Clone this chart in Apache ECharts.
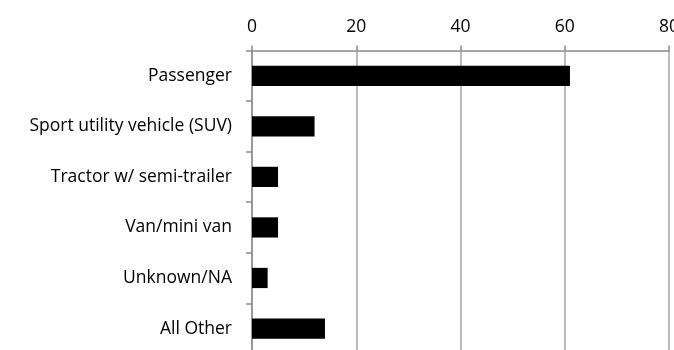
<!DOCTYPE html>
<html>
<head>
<meta charset="utf-8">
<script src="https://cdn.jsdelivr.net/npm/echarts@6/dist/echarts.min.js"></script>
<style>
  html, body { margin: 0; padding: 0; background: #fff; overflow: hidden; }
  #chart { width: 674px; height: 350px; }
</style>
</head>
<body>
<div id="chart"></div>
<script>
// Vehicle types involved, by share
const categories = [
  'Passenger',
  'Sport utility vehicle (SUV)',
  'Tractor w/ semi-trailer',
  'Van/mini van',
  'Unknown/NA',
  'All Other'
];
const values = [61, 12, 5, 5, 3, 14];
const xTicks = [0, 20, 40, 60, 80];

const axisGray = '#8c8c8c';
const font = '"Open Sans", "Liberation Sans", sans-serif';

const chart = echarts.init(document.getElementById('chart'), null, { renderer: 'canvas', width: 674, height: 350 });
chart.setOption({
  animation: false,
  backgroundColor: '#ffffff',
  grid: {
    left: 252, right: 5, top: 50.5, bottom: -3.8,
    containLabel: false,
    outerBoundsMode: 'none'
  },
  xAxis: {
    type: 'value',
    position: 'top',
    min: xTicks[0],
    max: xTicks[xTicks.length - 1],
    interval: xTicks[1] - xTicks[0],
    axisLine: { show: true, lineStyle: { color: axisGray, width: 1.5 } },
    axisTick: { show: true, length: 5, lineStyle: { color: axisGray, width: 1.5 } },
    splitLine: { show: true, lineStyle: { color: '#a6a6a6', width: 1.5 } },
    axisLabel: { color: '#000', fontFamily: font, fontSize: 17.5, margin: 14 }
  },
  yAxis: {
    type: 'category',
    data: categories,
    inverse: true,
    axisLine: { show: true, lineStyle: { color: axisGray, width: 1.5 } },
    axisTick: { show: true, length: 6, lineStyle: { color: axisGray, width: 1.5 } },
    splitLine: { show: false },
    axisLabel: { color: '#000', fontFamily: font, fontSize: 17.5, margin: 20 }
  },
  series: [{
    type: 'bar',
    data: values,
    barWidth: '40%',
    itemStyle: { color: '#000' }
  }]
});
</script>
</body>
</html>
